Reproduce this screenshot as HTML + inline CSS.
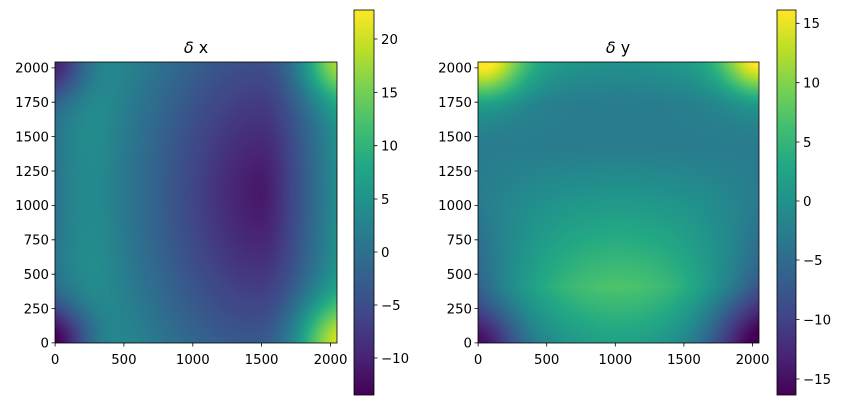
<!DOCTYPE html>
<html><head><meta charset="utf-8"><style>
body{margin:0;background:#fff;width:845px;height:405px;position:relative;overflow:hidden}
canvas{position:absolute}
.cb{position:absolute;background:linear-gradient(to top,#440154,#482475,#414487,#355f8d,#2a788e,#21918c,#22a884,#44bf70,#7ad151,#bddf26,#fde725)}
svg{position:absolute;left:0;top:0}
text{font-family:"DejaVu Sans","Liberation Sans",sans-serif;font-size:13.3px;fill:#000}
</style></head><body>
<canvas id="c1" width="282" height="281" style="left:55px;top:62px;width:282px;height:281px"></canvas>
<canvas id="c2" width="281" height="281" style="left:478px;top:62px;width:281px;height:281px"></canvas>
<div class="cb" style="left:354px;top:10px;width:20px;height:385px"></div>
<div class="cb" style="left:777px;top:10px;width:19px;height:385px"></div>
<svg width="845" height="405">
<g fill="none" stroke="#000" stroke-width="0.8">
<rect x="55" y="62" width="282" height="281"/>
<rect x="478" y="62" width="281" height="281"/>
<rect x="354" y="10" width="20" height="385"/>
<rect x="777" y="10" width="19" height="385"/>
<path d="M55.1 343v3.5M123.9 343v3.5M192.8 343v3.5M261.6 343v3.5M330.5 343v3.5
M55 342.9h-3.5M55 308.6h-3.5M55 274.2h-3.5M55 239.8h-3.5M55 205.4h-3.5M55 171h-3.5M55 136.6h-3.5M55 102.2h-3.5M55 67.9h-3.5
M478.1 343v3.5M546.7 343v3.5M615.3 343v3.5M683.9 343v3.5M752.5 343v3.5
M478 342.9h-3.5M478 308.6h-3.5M478 274.2h-3.5M478 239.8h-3.5M478 205.4h-3.5M478 171h-3.5M478 136.6h-3.5M478 102.2h-3.5M478 67.9h-3.5
M374 39h3.5M374 92.5h3.5M374 145.7h3.5M374 199h3.5M374 252h3.5M374 305h3.5M374 358h3.5
M796 23.3h3.5M796 82.7h3.5M796 142h3.5M796 201h3.5M796 260h3.5M796 319.5h3.5M796 379h3.5"/>
</g>
<text x="196" y="53" text-anchor="middle" style="font-size:16px"><tspan font-style="italic">δ</tspan> x</text>
<text x="618" y="53" text-anchor="middle" style="font-size:16px"><tspan font-style="italic">δ</tspan> y</text>
<g text-anchor="middle">
<text x="55.1" y="364">0</text><text x="123.9" y="364">500</text><text x="192.8" y="364">1000</text><text x="261.6" y="364">1500</text><text x="330.5" y="364">2000</text>
<text x="478.1" y="364">0</text><text x="546.7" y="364">500</text><text x="615.3" y="364">1000</text><text x="683.9" y="364">1500</text><text x="752.5" y="364">2000</text>
</g>
<g text-anchor="end">
<text x="49" y="347.7">0</text><text x="49" y="313.4">250</text><text x="49" y="279">500</text><text x="49" y="244.6">750</text><text x="49" y="210.2">1000</text><text x="49" y="175.8">1250</text><text x="49" y="141.4">1500</text><text x="49" y="107">1750</text><text x="49" y="72.7">2000</text>
<text x="472" y="347.7">0</text><text x="472" y="313.4">250</text><text x="472" y="279">500</text><text x="472" y="244.6">750</text><text x="472" y="210.2">1000</text><text x="472" y="175.8">1250</text><text x="472" y="141.4">1500</text><text x="472" y="107">1750</text><text x="472" y="72.7">2000</text>
</g>
<g>
<text x="381" y="43.8">20</text><text x="381" y="97.3">15</text><text x="381" y="150.5">10</text><text x="381" y="203.8">5</text><text x="381" y="256.8">0</text><text x="381" y="309.8">−5</text><text x="381" y="362.8">−10</text>
<text x="803" y="28.1">15</text><text x="803" y="87.5">10</text><text x="803" y="146.8">5</text><text x="803" y="205.8">0</text><text x="803" y="264.8">−5</text><text x="803" y="324.3">−10</text><text x="803" y="383.8">−15</text>
</g>
</svg>
<script>
var V=[[68,1,84],[72,36,117],[65,68,135],[53,95,141],[42,120,142],[33,145,140],[34,168,132],[68,191,112],[122,209,81],[189,223,38],[253,231,37]];
function cmap(t){t=Math.max(0,Math.min(1,t))*10;var i=Math.min(9,Math.floor(t)),f=t-i,a=V[i],b=V[i+1];return[a[0]+(b[0]-a[0])*f,a[1]+(b[1]-a[1])*f,a[2]+(b[2]-a[2])*f];}
function g(u,v,cu,cv,s){return Math.exp(-((u-cu)*(u-cu)+(v-cv)*(v-cv))/(s*s));}
function lerp(arr,v){for(var i=0;i<arr.length-1;i++){if(v<=arr[i+1][0]){var f=(v-arr[i][0])/(arr[i+1][0]-arr[i][0]);return arr[i][1]+(arr[i+1][1]-arr[i][1])*f;}}return arr[arr.length-1][1];}
function fx(u,v){var dx=u-0.73,dv=v-0.53;var kx=dx>0?66:30;var r=Math.sqrt(kx*kx*dx*dx+18*18*dv*dv);
var f=-11+r*r/(r+3)-200*Math.pow(Math.max(0,0.2-u),2);
f+=12*g(u,v,1,1,0.13)+14*g(u,v,1,0,0.15);f-=16*g(u,v,0,0,0.14)+12*g(u,v,0,1,0.13);return f;}
var C=[[0,2],[0.2,7],[0.45,2],[0.55,0],[0.7,-3],[0.85,-3],[1,0]];
var W=[[0,12],[0.2,13],[0.5,4],[0.7,0],[0.85,-2],[1,-6]];
function fy(u,v){var f=lerp(C,v)-lerp(W,v)*4*(u-0.5)*(u-0.5);
f+=12*g(u,v,0.03,1,0.13)+11*g(u,v,0.99,1,0.12);f-=6*g(u,v,0.03,0,0.12)+8*g(u,v,0.98,0,0.17);return f;}
function draw(id,fn,lo,hi){var c=document.getElementById(id),x=c.getContext('2d'),w=c.width,h=c.height,im=x.createImageData(w,h);
for(var j=0;j<h;j++)for(var i=0;i<w;i++){var u=(i+0.5)/w,v=1-(j+0.5)/h;var col=cmap((fn(u,v)-lo)/(hi-lo));var p=(j*w+i)*4;im.data[p]=col[0];im.data[p+1]=col[1];im.data[p+2]=col[2];im.data[p+3]=255;}
x.putImageData(im,0,0);}
draw('c1',fx,-13.5,22.7);draw('c2',fy,-16.35,16.1);
</script>
</body></html>
